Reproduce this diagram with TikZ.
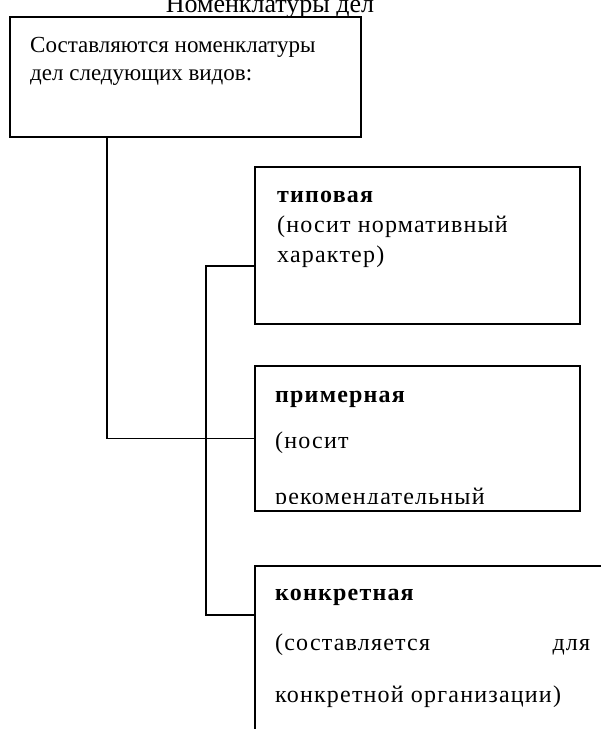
\documentclass[tikz,border=0pt]{standalone}
\usepackage{fontspec}
\setmainfont{Liberation Serif}
\newfontfamily\boxfont[LetterSpace=5]{Liberation Serif}
\begin{document}
\begin{tikzpicture}[x=1pt,y=-1pt,
  every node/.style={inner sep=0pt},
  frame/.style={draw=black,line width=2pt,anchor=north west},
  link/.style={draw=black,line width=1.5pt},
  introtext/.style={anchor=base west,font=\fontsize{23}{27}\selectfont},
  bodytext/.style={anchor=base west,font=\boxfont\fontsize{24}{28}\selectfont},
  headtext/.style={anchor=base west,font=\boxfont\fontsize{24}{28}\selectfont\bfseries}]
\useasboundingbox (0,0) rectangle (601,729);
\clip (0,0) rectangle (601,729);
% title, cut by the top edge
\node[anchor=base,font=\fontsize{26}{30}\selectfont] (title) at (270,12) {Номенклатуры дел};
% boxes
\node[frame,minimum width=351pt,minimum height=120pt] (intro) at (9,16) {};
\node[frame,minimum width=325pt,minimum height=157pt] (typ) at (254,166) {};
\node[frame,minimum width=325pt,minimum height=145pt] (ex) at (254,365) {};
\node[frame,minimum width=380pt,minimum height=200pt] (conc) at (254,565) {};
% texts
\node[introtext] (i1) at (30,52) {Составляются номенклатуры};
\node[introtext] (i2) at (30,80) {дел следующих видов:};
\node[headtext] (t1) at (277,202) {типовая};
\node[bodytext] (t2) at (277,232) {(носит нормативный};
\node[bodytext] (t3) at (277,262) {характер)};
\begin{scope}
\clip (ex.north west) rectangle (579,503);
\node[headtext] (e1) at (275,402) {примерная};
\node[bodytext] (e2) at (275,448) {(носит};
\node[bodytext] (e3) at (275,504) {рекомендательный};
\end{scope}
\node[headtext] (k1) at (275,600) {конкретная};
\node[bodytext] (k2) at (275,650) {\makebox[315pt][l]{(составляется\hfill для}};
\node[bodytext] (k3) at (275,702) {конкретной организации)};
% connectors
\coordinate (stem) at (107,0);
\coordinate (bustop) at (206,266);
\coordinate (busbot) at (206,615);
\draw[link] (intro.south -| stem) |- (ex.west);
\draw[link] (bustop -| typ.west) -- (bustop) -- (busbot) -- (busbot -| conc.west);
\end{tikzpicture}
\end{document}
